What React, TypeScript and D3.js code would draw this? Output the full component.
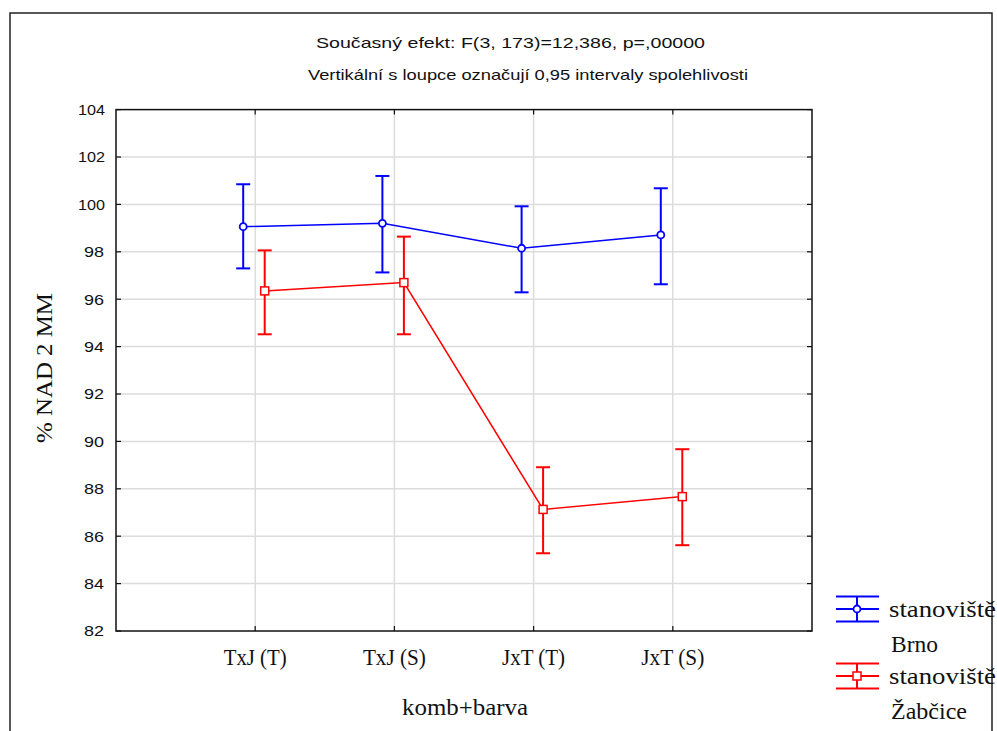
import React, { useEffect, useRef } from "react";
import * as d3 from "d3";

const categories = ["TxJ (T)", "TxJ (S)", "JxT (T)", "JxT (S)"];
const yTicks = [82, 84, 86, 88, 90, 92, 94, 96, 98, 100, 102, 104];

const brnoMean = [99.06, 99.2, 98.15, 98.71];
const brnoLow = [97.3, 97.13, 96.29, 96.63];
const brnoHigh = [100.85, 101.2, 99.92, 100.68];

const zabMean = [96.35, 96.7, 87.13, 87.67];
const zabLow = [94.52, 94.52, 85.28, 85.62];
const zabHigh = [98.06, 98.64, 88.91, 89.67];

const SANS = "Liberation Sans, Arial";
const SERIF = "Liberation Serif, Times New Roman";

const App = () => {
  const svgRef = useRef<SVGSVGElement>(null);

  useEffect(() => {
    const width = 997;
    const height = 731;
    const svg = d3.select(svgRef.current);
    svg.selectAll("*").remove();
    svg.attr("width", width).attr("height", height);

    const left = 116, right = 812, top = 109.6, bottom = 631;

    const x = d3.scaleLinear().domain([0, categories.length + 1]).range([left, right]);
    const y = d3.scaleLinear().domain([82, 104]).range([bottom, top]);

    // outer frame
    svg.append("path")
      .attr("d", `M10,${height} V13 H992 V${height}`)
      .attr("fill", "none")
      .attr("stroke", "#222")
      .attr("stroke-width", 1.5);

    // titles
    svg.append("text")
      .attr("x", 316).attr("y", 48)
      .attr("textLength", 389).attr("lengthAdjust", "spacingAndGlyphs")
      .style("font-family", SANS).style("font-size", "15px").style("fill", "#111")
      .text("Současný efekt: F(3, 173)=12,386, p=,00000");
    svg.append("text")
      .attr("x", 308).attr("y", 80)
      .attr("textLength", 440).attr("lengthAdjust", "spacingAndGlyphs")
      .style("font-family", SANS).style("font-size", "15px").style("fill", "#111")
      .text("Vertikální s loupce označují 0,95 intervaly spolehlivosti");

    // grid
    const grid = svg.append("g");
    yTicks.slice(1, -1).forEach(t => {
      grid.append("line")
        .attr("x1", left).attr("x2", right).attr("y1", y(t)).attr("y2", y(t))
        .attr("stroke", "#dcdcdc").attr("stroke-width", 1.5);
    });
    categories.forEach((_, i) => {
      grid.append("line")
        .attr("x1", x(i + 1)).attr("x2", x(i + 1)).attr("y1", top).attr("y2", bottom)
        .attr("stroke", "#dcdcdc").attr("stroke-width", 1.5);
    });

    // plot frame
    svg.append("rect")
      .attr("x", left).attr("y", top).attr("width", right - left).attr("height", bottom - top)
      .attr("fill", "none").attr("stroke", "#111").attr("stroke-width", 1.5);

    // inner ticks
    const ticks = svg.append("g").attr("stroke", "#111").attr("stroke-width", 1.2);
    yTicks.forEach(t => {
      ticks.append("line").attr("x1", left).attr("x2", left + 5).attr("y1", y(t)).attr("y2", y(t));
      ticks.append("line").attr("x1", right - 5).attr("x2", right).attr("y1", y(t)).attr("y2", y(t));
    });
    categories.forEach((_, i) => {
      ticks.append("line").attr("x1", x(i + 1)).attr("x2", x(i + 1)).attr("y1", top).attr("y2", top + 5);
      ticks.append("line").attr("x1", x(i + 1)).attr("x2", x(i + 1)).attr("y1", bottom - 5).attr("y2", bottom);
    });

    // y tick labels
    svg.append("g").selectAll("text").data(yTicks).enter().append("text")
      .attr("x", d => (d >= 100 ? 78 : 84)).attr("y", d => y(d)).attr("dy", "0.36em")
      .attr("textLength", d => (d >= 100 ? 27 : 20)).attr("lengthAdjust", "spacingAndGlyphs")
      .style("font-family", SANS).style("font-size", "15px")
      .style("fill", "#111")
      .text(d => d);

    // x tick labels
    svg.append("g").selectAll("text").data(categories).enter().append("text")
      .attr("x", (_, i) => x(i + 1) - 31.5).attr("y", 665)
      .attr("textLength", 63).attr("lengthAdjust", "spacingAndGlyphs")
      .style("font-family", SERIF).style("font-size", "23px")
      .style("fill", "#111")
      .text(d => d);

    // axis titles
    svg.append("text")
      .attr("x", 402).attr("y", 715)
      .attr("textLength", 126).attr("lengthAdjust", "spacingAndGlyphs")
      .style("font-family", SERIF).style("font-size", "24px")
      .style("fill", "#111")
      .text("komb+barva");
    svg.append("text")
      .attr("transform", "translate(52,443) rotate(-90)")
      .attr("textLength", 150).attr("lengthAdjust", "spacingAndGlyphs")
      .style("font-family", SERIF).style("font-size", "23px")
      .style("fill", "#111")
      .text("% NAD 2 MM");

    const series = [
      { mean: brnoMean, low: brnoLow, high: brnoHigh, color: "#0000ff", dx: -12, marker: "circle" },
      { mean: zabMean, low: zabLow, high: zabHigh, color: "#ff0000", dx: 9.5, marker: "square" }
    ];

    series.forEach(s => {
      const g = svg.append("g");
      const px = (i: number) => x(i + 1) + s.dx;
      const line = d3.line<number>().x((_, i) => px(i)).y(d => y(d));
      g.append("path")
        .attr("d", line(s.mean))
        .attr("fill", "none").attr("stroke", s.color).attr("stroke-width", 1.5);

      s.mean.forEach((m, i) => {
        const cx = px(i);
        g.append("line").attr("x1", cx).attr("x2", cx).attr("y1", y(s.low[i])).attr("y2", y(s.high[i]))
          .attr("stroke", s.color).attr("stroke-width", 2);
        [s.low[i], s.high[i]].forEach(v => {
          g.append("line").attr("x1", cx - 7).attr("x2", cx + 7).attr("y1", y(v)).attr("y2", y(v))
            .attr("stroke", s.color).attr("stroke-width", 2);
        });
        if (s.marker === "circle") {
          g.append("circle").attr("cx", cx).attr("cy", y(m)).attr("r", 3.5)
            .attr("fill", "white").attr("stroke", s.color).attr("stroke-width", 1.8);
        } else {
          g.append("rect").attr("x", cx - 4).attr("y", y(m) - 4).attr("width", 8).attr("height", 8)
            .attr("fill", "white").attr("stroke", s.color).attr("stroke-width", 1.5);
        }
      });
    });

    // legend
    const legendItems = [
      { label1: "stanoviště", label2: "Brno", w2: 47, color: "#0000ff", marker: "circle", y0: 609 },
      { label1: "stanoviště", label2: "Žabčice", w2: 76, color: "#ff0000", marker: "square", y0: 676 }
    ];
    legendItems.forEach(item => {
      const lg = svg.append("g");
      const cx = 857;
      [-12.5, 0, 12.5].forEach(dy => {
        lg.append("line").attr("x1", 836).attr("x2", 879).attr("y1", item.y0 + dy).attr("y2", item.y0 + dy)
          .attr("stroke", item.color).attr("stroke-width", 2);
      });
      lg.append("line").attr("x1", cx).attr("x2", cx).attr("y1", item.y0 - 12.5).attr("y2", item.y0 + 12.5)
        .attr("stroke", item.color).attr("stroke-width", 2);
      if (item.marker === "circle") {
        lg.append("circle").attr("cx", cx).attr("cy", item.y0).attr("r", 3.5)
          .attr("fill", "white").attr("stroke", item.color).attr("stroke-width", 1.8);
      } else {
        lg.append("rect").attr("x", cx - 4).attr("y", item.y0 - 4).attr("width", 8).attr("height", 8)
          .attr("fill", "white").attr("stroke", item.color).attr("stroke-width", 1.5);
      }
      lg.append("text").attr("x", 889).attr("y", item.y0 + 8)
        .attr("textLength", 107).attr("lengthAdjust", "spacingAndGlyphs")
        .style("font-family", SERIF).style("font-size", "23px")
        .style("fill", "#111")
        .text(item.label1);
      lg.append("text").attr("x", 891).attr("y", item.y0 + 43)
        .attr("textLength", item.w2).attr("lengthAdjust", "spacingAndGlyphs")
        .style("font-family", SERIF).style("font-size", "23px")
        .style("fill", "#111")
        .text(item.label2);
    });
  }, []);

  return (
    <div style={{ position: "absolute", left: 0, top: 0, width: 997, height: 731, overflow: "hidden", background: "white" }}>
      <svg ref={svgRef} style={{ display: "block" }}></svg>
    </div>
  );
};

export default App;
